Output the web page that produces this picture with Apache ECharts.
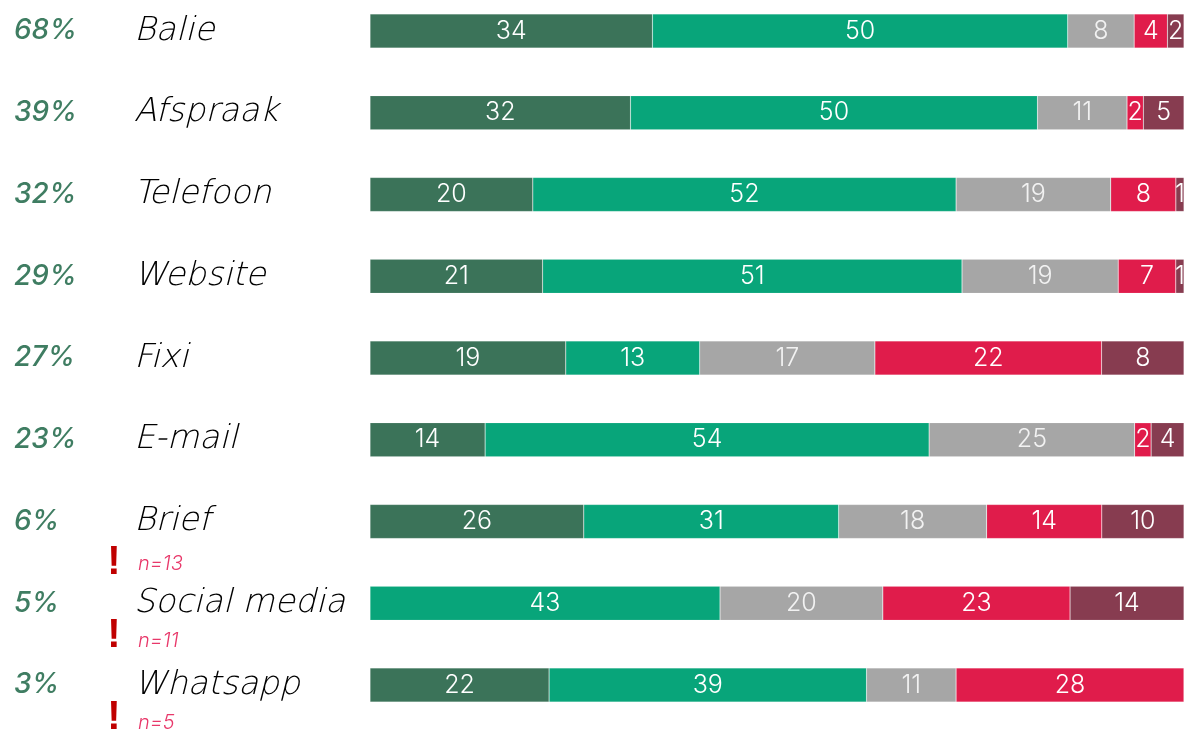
<!DOCTYPE html>
<html>
<head>
<meta charset="utf-8">
<style>html,body{margin:0;padding:0;background:#fff;overflow:hidden}#chart{width:1186px;height:732px}</style>
<script src="https://cdn.jsdelivr.net/npm/echarts@6/dist/echarts.min.js"></script>
</head>
<body>
<div id="chart"></div>
<script>
// Contact channels and the share of respondents who used each one
const channels = ['Balie','Afspraak','Telefoon','Website','Fixi','E-mail','Brief','Social media','Whatsapp'];
const usage = ['68%','39%','32%','29%','27%','23%','6%','5%','3%'];

// Answer distribution per channel, from most positive to most negative
const veryPositive = [34,32,20,21,19,14,26,0,22];
const positive     = [50,50,52,51,13,54,31,43,39];
const neutral      = [8,11,19,19,17,25,18,20,11];
const negative     = [4,2,8,7,22,2,14,23,28];
const veryNegative = [2,5,1,1,8,4,10,14,0];

// Channels with a small sample
const sampleNotes = {'Brief':'n=13','Social media':'n=11','Whatsapp':'n=5'};
const noteDrop = {'Brief':[42,41],'Social media':[38,33],'Whatsapp':[38,33]};

const answerSets = [veryPositive, positive, neutral, negative, veryNegative];
const answerColors = ['#3B7359','#08A57A','#A6A6A6','#E01C4B','#873C50'];
const FONT = 'Inter';
const NAME_FONT = '"DejaVu Sans ExtraLight","DejaVu Sans Light"';

// Each row fills the full width, so segments are scaled to the row's own total
const rowTotals = channels.map((_, i) => answerSets.reduce((s, a) => s + a[i], 0));

const chart = echarts.init(document.getElementById('chart'), null, {renderer:'canvas'});

const series = answerSets.map((values, k) => ({
  type: 'bar',
  stack: 'answers',
  barWidth: 34,
  silent: true,
  itemStyle: {color: answerColors[k], borderColor: 'rgba(255,255,255,0.2)', borderWidth: 0.6},
  label: {
    show: true,
    position: 'inside',
    color: k === 2 ? '#F2F2F2' : '#FFFFFF',
    fontFamily: FONT,
    fontWeight: 300,
    fontSize: 25,
    offset: [0, 1],
    formatter: p => values[p.dataIndex] === 0 ? '' : String(values[p.dataIndex])
  },
  labelLayout: {hideOverlap: false},
  data: values.map((v, i) => v / rowTotals[i] * 100)
}));

chart.setOption({
  animation: false,
  backgroundColor: '#FFFFFF',
  grid: {left: 370, right: 2, top: -9.875, height: 735.75, containLabel: false, outerBoundsMode: 'none'},
  xAxis: {type: 'value', min: 0, max: 100, show: false},
  yAxis: [
    {
      type: 'category', inverse: true, data: channels,
      axisLine: {show: false}, axisTick: {show: false}, splitLine: {show: false},
      axisLabel: {
        align: 'left', margin: 236, color: '#000000', fontFamily: NAME_FONT,
        fontStyle: 'italic', fontWeight: 200, fontSize: 33, padding: [0,0,4,0]
      }
    },
    {
      type: 'category', inverse: true, position: 'left', data: usage,
      axisLine: {show: false}, axisTick: {show: false}, splitLine: {show: false},
      axisLabel: {
        align: 'left', margin: 356, color: '#3F7D62', fontFamily: FONT,
        fontStyle: 'italic', fontWeight: 500, fontSize: 28, padding: [0,0,1,0]
      }
    }
  ],
  series
});

// Small-sample warnings sit just under their channel name
const notes = [];
channels.forEach(name => {
  if (!sampleNotes[name]) return;
  const rowY = chart.convertToPixel({yAxisIndex: 0}, name);
  notes.push({
    type: 'text', x: 138, y: rowY + noteDrop[name][0],
    style: {text: sampleNotes[name], fill: '#E8386A', font: 'italic 300 20px ' + FONT, textVerticalAlign: 'middle'}
  });
  notes.push({
    type: 'text', x: 114, y: rowY + noteDrop[name][1],
    style: {text: '!', fill: '#C00000', font: 'bold 40px "Liberation Sans"', textAlign: 'center', textVerticalAlign: 'middle'}
  });
});
chart.setOption({graphic: notes});
</script>
</body>
</html>
